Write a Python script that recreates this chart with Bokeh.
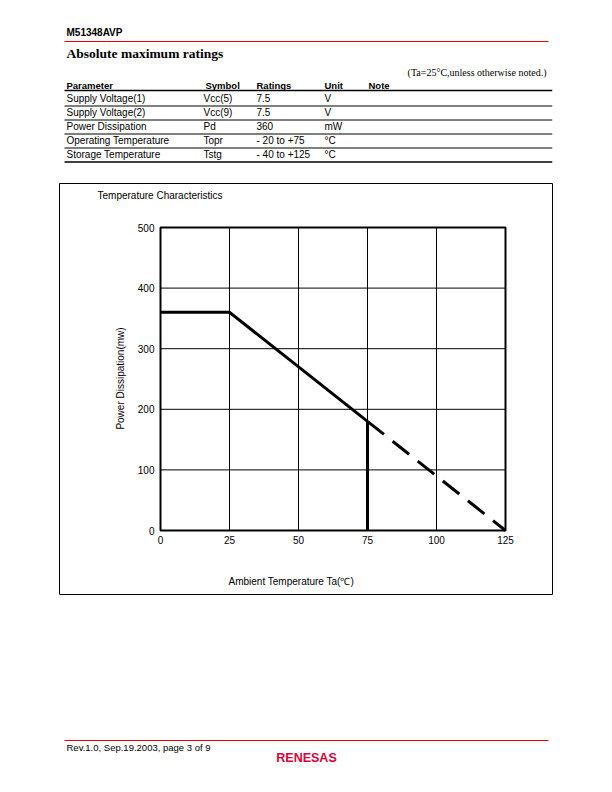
from bokeh.plotting import figure
from bokeh.models import Range1d, LinearAxis, FixedTicker, Label
from bokeh.layouts import column
from bokeh.embed import file_html
from bokeh.resources import INLINE
from bokeh.core.properties import value

# ---------------- data ----------------
temp_ticks = [0, 25, 50, 75, 100, 125]
power_ticks = [0, 100, 200, 300, 400, 500]
derate_temp = [0, 25, 75, 125]
derate_power = [360, 360, 180, 0]

table_header = ["Parameter", "Symbol", "Ratings", "Unit", "Note"]
params = ["Supply Voltage(1)", "Supply Voltage(2)", "Power Dissipation",
          "Operating Temperature", "Storage Temperature"]
symbols = ["Vcc(5)", "Vcc(9)", "Pd", "Topr", "Tstg"]
ratings = ["7.5", "7.5", "360", "- 20 to +75", "- 40 to +125"]
units = ["V", "V", "mW", "°C", "°C"]

# ---------------- styles ----------------
SANS = "Liberation Sans"
SERIF = "Liberation Serif"
RED = "#ee0000"
W = 612
BOX_L, BOX_R, BOX_T, BOX_B = 59, 552, 183, 594


def page_fig(h, y0):
    f = figure(width=W, height=h, x_range=Range1d(BOX_L, BOX_R), y_range=Range1d(y0 + h, y0),
               x_axis_type=None, y_axis_type=None, toolbar_location=None,
               output_backend="svg", min_border_left=BOX_L, min_border_right=W - BOX_R,
               min_border_top=0, min_border_bottom=0, outline_line_color=None)
    return f


def txt(f, x, y, t, size="10px", font=SANS, style="normal", align="left", color="black"):
    f.text(x=x, y=y, text=t, text_font=value(font), text_font_size=size,
           text_font_style=style, text_align=align, text_baseline="middle",
           text_color=color)


# ---------------- header / table ----------------
H1 = 182
top = page_fig(H1, 0)
txt(top, [66], [31.5], ["M51348AVP"], style="bold")
top.segment(x0=64, y0=41, x1=548, y1=41, line_color=RED, line_width=1.2)
txt(top, [66], [52.5], ["Absolute maximum ratings"], size="13.5px", font=SERIF, style="bold")
txt(top, [546], [71.5], ["(Ta=25°C,unless otherwise noted.)"], size="10px", font=SERIF, align="right")

col_x = [66, 205, 256, 324, 368]
body_x = [66, 203, 256, 324]
txt(top, col_x, [84.5] * len(col_x), table_header, style="bold", size="9.5px")
row_y = [97.5, 111.5, 125.5, 139.5, 153.5]
for cx, colvals in zip(body_x, [params, symbols, ratings, units]):
    txt(top, [cx] * len(colvals), row_y, colvals, size="10px")
line_y = [90, 105.5, 119.5, 133.5, 147.5, 161.5]
top.segment(x0=[64] * 4, y0=line_y[1:5], x1=[552] * 4, y1=line_y[1:5],
            line_color="black", line_width=1)
top.segment(x0=[64, 64], y0=[line_y[0], line_y[5]], x1=[552, 552], y1=[line_y[0], line_y[5]],
            line_color="black", line_width=1.6)

# ---------------- chart ----------------
CH_Y0 = 182
CH_H = 415
PL, PR, PT, PB = 160, 505, 227, 530
sx = (PR - PL) / (temp_ticks[-1] - temp_ticks[0])
sy = (PB - PT) / (power_ticks[-1] - power_ticks[0])


def px2x(px):
    return temp_ticks[0] + (px - PL) / sx


def py2y(py):
    return power_ticks[0] + (PB - py) / sy


p = figure(width=W, height=CH_H,
           x_range=Range1d(px2x(BOX_L), px2x(BOX_R)),
           y_range=Range1d(py2y(BOX_B), py2y(BOX_T)),
           x_axis_type=None, y_axis_type=None, toolbar_location=None,
           output_backend="svg",
           min_border_left=BOX_L, min_border_right=W - BOX_R,
           min_border_top=BOX_T - CH_Y0, min_border_bottom=CH_Y0 + CH_H - BOX_B)
p.outline_line_color = "black"
p.outline_line_width = 1

# grid lines
p.segment(x0=temp_ticks[1:-1], y0=power_ticks[0], x1=temp_ticks[1:-1], y1=power_ticks[-1],
          line_color="black", line_width=1)
p.segment(x0=temp_ticks[0], y0=power_ticks[1:-1], x1=temp_ticks[-1], y1=power_ticks[1:-1],
          line_color="black", line_width=1)
# plot area border
p.quad(left=[temp_ticks[0]], right=[temp_ticks[-1]], bottom=[power_ticks[0]],
       top=[power_ticks[-1]], fill_color=None, line_color="black", line_width=2)

# derating curve
p.line(derate_temp[:3], derate_power[:3], line_color="black", line_width=3, line_join="miter")
p.line(derate_temp[2:], derate_power[2:], line_color="black", line_width=3, line_dash="21 11")
p.segment(x0=derate_temp[2], y0=0, x1=derate_temp[2], y1=derate_power[2],
          line_color="black", line_width=3)

xa = LinearAxis(fixed_location=0, bounds=(temp_ticks[0], temp_ticks[-1]),
                ticker=FixedTicker(ticks=temp_ticks, minor_ticks=[]),
                major_tick_in=0, major_tick_out=0, minor_tick_in=0, minor_tick_out=0,
                axis_line_color=None, major_label_standoff=5,
                major_label_text_font=SANS, major_label_text_font_size="10px",
                major_label_text_color="black")
p.add_layout(xa, "below")
ya = LinearAxis(fixed_location=0, bounds=(power_ticks[0], power_ticks[-1]),
                ticker=FixedTicker(ticks=power_ticks, minor_ticks=[]),
                major_tick_in=0, major_tick_out=0, minor_tick_in=0, minor_tick_out=0,
                axis_line_color=None, major_label_standoff=6,
                major_label_text_font=SANS, major_label_text_font_size="10px",
                major_label_text_color="black")
p.add_layout(ya, "left")

p.add_layout(Label(x=px2x(97), y=py2y(194.5), text="Temperature Characteristics",
                   text_font=SANS, text_font_size="10px", text_baseline="middle",
                   text_align="left", text_color="black"))
p.add_layout(Label(x=px2x(228), y=py2y(580.5), text="Ambient Temperature Ta(℃)",
                   text_font=SANS, text_font_size="10px", text_baseline="middle",
                   text_align="left", text_color="black"))
p.add_layout(Label(x=px2x(120), y=py2y(378), text="Power Dissipation(mw)",
                   angle=90, angle_units="deg",
                   text_font=SANS, text_font_size="10px", text_baseline="middle",
                   text_align="center", text_color="black"))

# ---------------- footer ----------------
F_Y0 = CH_Y0 + CH_H
foot = page_fig(792 - F_Y0, F_Y0)
foot.segment(x0=64, y0=740, x1=548, y1=740, line_color=RED, line_width=1.2)
txt(foot, [66], [746.5], ["Rev.1.0,  Sep.19.2003,  page 3 of 9"], size="9.5px")
txt(foot, [306], [757.5], ["RENESAS"], size="12.5px", style="bold", align="center", color="#d9003a")

layout = column(top, p, foot, spacing=0)
open("out.html", "w").write(file_html(layout, INLINE))
